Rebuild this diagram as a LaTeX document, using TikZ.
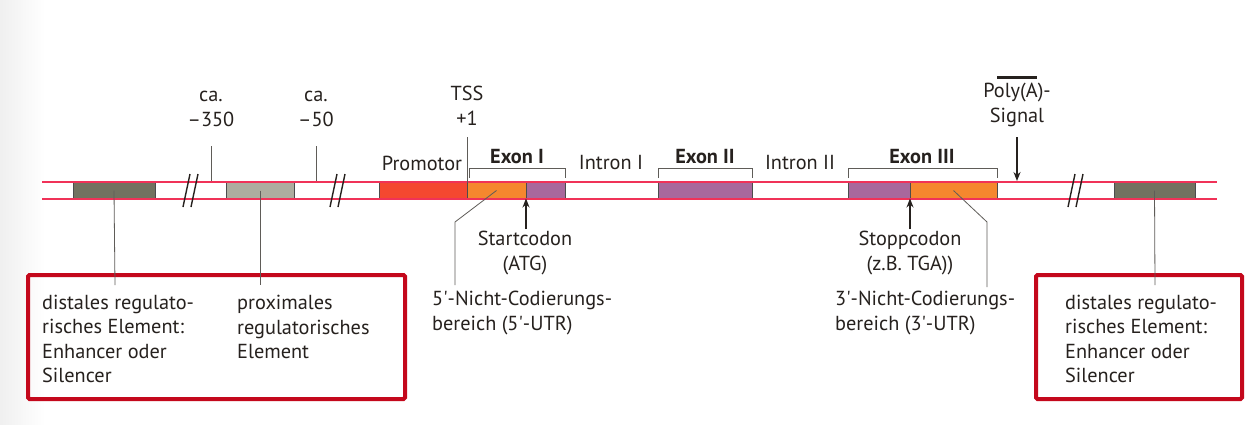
\documentclass[tikz,border=0pt]{standalone}
\usepackage{fontspec}
\setmainfont{PT Sans}
\usetikzlibrary{arrows.meta}
\definecolor{strandred}{RGB}{240,50,88}
\definecolor{boxred}{RGB}{196,8,28}
\definecolor{txt}{RGB}{38,33,30}
\definecolor{darkel}{RGB}{114,114,96}
\definecolor{lightel}{RGB}{173,173,159}
\definecolor{promred}{RGB}{244,72,48}
\definecolor{utrorange}{RGB}{245,135,46}
\definecolor{cdspurple}{RGB}{168,104,156}
\definecolor{linegray}{RGB}{95,92,88}
\newcommand{\aq}{\textquotesingle}
\begin{document}
\begin{tikzpicture}[x=1pt,y=-1pt,
  seg/.style={draw=black!70, line width=0.6pt, minimum height=16pt, inner sep=0pt, outer sep=0pt},
  strand/.style={draw=strandred, line width=2.4pt},
  lbl/.style={font=\fontsize{20.3}{24.5}\selectfont, text=txt, inner sep=0pt},
  blbl/.style={lbl, font=\fontsize{20.3}{24.5}\selectfont\bfseries},
  conn/.style={draw=linegray, line width=0.8pt},
  brk/.style={draw=txt, line width=1.4pt},
  arr/.style={draw=txt, line width=1.3pt, -{Stealth[length=9pt,width=7pt]}},
  frame/.style={draw=boxred, line width=4pt, rounded corners=1.5pt}
]
\useasboundingbox (0,0) rectangle (1256,424);
\fill[white] (0,0) rectangle (1256,424);
\shade[left color=black!6, right color=white] (0,0) rectangle (45,424);

% strand elements
\node[seg, fill=darkel, minimum width=82pt] (enhL) at (114,190.5) {};
\node[seg, fill=lightel, minimum width=68pt] (prox) at (260,190.5) {};
\node[seg, fill=promred, minimum width=88pt] (prom) at (423,190.5) {};
\node[seg, fill=utrorange, minimum width=59pt] (utr5) at (496.5,190.5) {};
\node[seg, fill=cdspurple, minimum width=39pt] (cds1) at (545.5,190.5) {};
\node[seg, fill=cdspurple, minimum width=94pt] (ex2) at (705,190.5) {};
\node[seg, fill=cdspurple, minimum width=62pt] (cds3) at (879,190.5) {};
\node[seg, fill=utrorange, minimum width=87pt] (utr3) at (953.5,190.5) {};
\node[seg, fill=darkel, minimum width=81pt] (enhR) at (1154.5,190.5) {};

% strand lines
\draw[strand] (42,182) -- (1217,182);
\draw[strand] (42,199) -- (1217,199);

% breaks
\draw[brk] (183,207) -- (190,174);
\draw[brk] (191,207) -- (198,174);
\draw[brk] (330,207) -- (337,174);
\draw[brk] (338,207) -- (345,174);
\draw[brk] (1068,207) -- (1075,174);
\draw[brk] (1076,207) -- (1083,174);

% top labels
\node[lbl, align=center] (m350) at (211,109) {ca.\\–350};
\node[lbl, align=center] (m50) at (316,109) {ca.\\–50};
\node[lbl, align=center] (tss) at (467,106) {TSS\\+1};
\node[lbl, align=center] (polya) at (1017,105) {Poly(A)-\\Signal};
\coordinate (m350foot) at (211,146);
\coordinate (m50foot) at (316,146);
\coordinate (tsstop) at (467,137);
\coordinate (polyatop) at (1017,137);
\coordinate (polyatip) at (1017,181);
\draw[conn] (m350foot) -- (211,181);
\draw[conn] (m50foot) -- (316,181);
\draw[conn] (tsstop) -- (prom.north east);
\draw[arr] (polyatop) -- (polyatip);
\draw[draw=txt, line width=3pt] (997,77) -- (1037,77);

\node[lbl] (promlbl) at (422,163) {Promotor};
\node[blbl] (ex1lbl) at (517,157) {Exon I};
\node[lbl] (in1lbl) at (611,163) {Intron I};
\node[blbl] (ex2lbl) at (705,157) {Exon II};
\node[lbl] (in2lbl) at (800,163) {Intron II};
\node[blbl] (ex3lbl) at (922,157) {Exon III};

% brackets
\draw[conn] (469,178) -- (469,168) -- (565,168) -- (565,178);
\draw[conn] (658,178) -- (658,168) -- (752,168) -- (752,178);
\draw[conn] (848,178) -- (848,168) -- (997,168) -- (997,178);

% codons
\node[lbl, align=center] (startlbl) at (525,253) {Startcodon\\(ATG)};
\node[lbl, align=center] (stopplbl) at (910,253) {Stoppcodon\\(z.B. TGA))};
\coordinate (startfoot) at (526,229);
\coordinate (stoppfoot) at (910,229);
\draw[arr] (startfoot) -- (utr5.south east);
\draw[arr] (stoppfoot) -- (cds3.south east);

% UTR labels
\node[lbl, align=left, anchor=west] (utr5lbl) at (432,313) {5\aq-Nicht-Codierungs-\\bereich (5\aq-UTR)};
\node[lbl, align=left, anchor=west] (utr3lbl) at (835,313) {3\aq-Nicht-Codierungs-\\bereich (3\aq-UTR)};
\coordinate (utr5foot) at (455,285);
\coordinate (utr3foot) at (987,287);
\draw[conn] (utr5.center) -- (455,222) -- (utr5foot);
\draw[conn] (utr3.center) -- (987,222) -- (utr3foot);

% regulatory boxes
\draw[frame] (28,275) rectangle (405,399);
\draw[frame] (1036,275) rectangle (1242,399);
\node[lbl, align=left, anchor=west] (distL) at (42,339) {distales regulato-\\risches Element:\\Enhancer oder\\Silencer};
\node[lbl, align=left, anchor=west] (proxlbl) at (237,327) {proximales\\regulatorisches\\Element};
\node[lbl, align=left, anchor=west] (distR) at (1065,339) {distales regulato-\\risches Element:\\Enhancer oder\\Silencer};
\coordinate (enhLfoot) at (115,285);
\coordinate (proxfoot) at (260,285);
\coordinate (enhRfoot) at (1155,285);
\draw[conn] (enhL.center) -- (enhLfoot);
\draw[conn] (prox.center) -- (proxfoot);
\draw[conn] (enhR.center) -- (enhRfoot);
\end{tikzpicture}
\end{document}
